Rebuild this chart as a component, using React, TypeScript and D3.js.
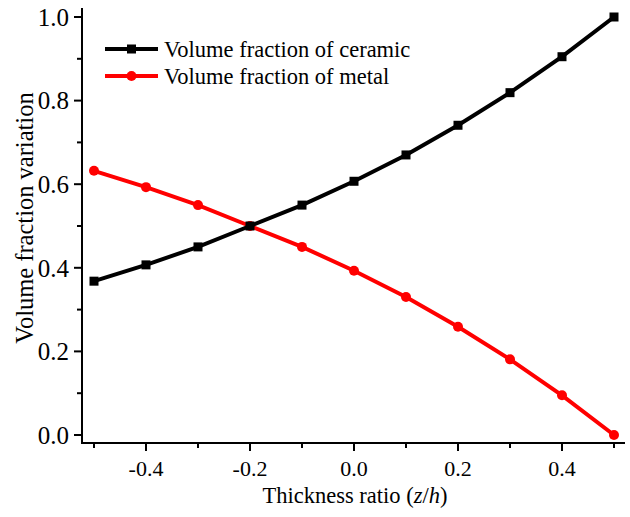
import React, { useEffect, useRef } from "react";
import * as d3 from "d3";

const thickness = [-0.5, -0.4, -0.3, -0.2, -0.1, 0.0, 0.1, 0.2, 0.3, 0.4, 0.5];
const ceramic = [0.368, 0.407, 0.45, 0.5, 0.55, 0.607, 0.67, 0.741, 0.819, 0.905, 1.0];
const metal = [0.632, 0.593, 0.55, 0.5, 0.45, 0.393, 0.33, 0.259, 0.181, 0.095, 0.0];
const xTicks = [-0.4, -0.2, 0.0, 0.2, 0.4];
const yTicks = [0.0, 0.2, 0.4, 0.6, 0.8, 1.0];
const seriesNames = ["Volume fraction of ceramic", "Volume fraction of metal"];

const width = 630;
const height = 517;
const font = "Liberation Serif, Times New Roman, DejaVu Serif, serif";

const App = () => {
  const ref = useRef<SVGSVGElement>(null);

  useEffect(() => {
    const svg = d3.select(ref.current);
    svg.selectAll("*").remove();

    const x = d3.scaleLinear().domain([-0.5, 0.5]).range([94, 614]);
    const y = d3.scaleLinear().domain([0, 1]).range([435, 17]);
    const left = 82;
    const bottom = 443;

    // axes frame
    svg.append("line")
      .attr("x1", left).attr("x2", left).attr("y1", 8).attr("y2", bottom + 1)
      .attr("stroke", "#000").attr("stroke-width", 2);
    svg.append("line")
      .attr("x1", left - 1).attr("x2", 625).attr("y1", bottom).attr("y2", bottom)
      .attr("stroke", "#000").attr("stroke-width", 2);

    // x ticks (major + minor)
    const xMinor = d3.range(-5, 6).map((d) => d / 10);
    svg.selectAll("line.xt").data(xMinor).enter().append("line")
      .attr("x1", (d) => x(d)).attr("x2", (d) => x(d))
      .attr("y1", bottom)
      .attr("y2", (d) => bottom + (xTicks.some((t) => Math.abs(t - d) < 1e-9) ? 8 : 5))
      .attr("stroke", "#000").attr("stroke-width", 2);
    svg.selectAll("text.xl").data(xTicks).enter().append("text")
      .attr("x", (d) => x(d)).attr("y", 476)
      .attr("text-anchor", "middle")
      .style("font-family", font).style("font-size", "22px")
      .text((d) => d3.format(".1f")(d).replace("−", "-"));

    // y ticks (major + minor)
    const yMinor = d3.range(0, 11).map((d) => d / 10);
    svg.selectAll("line.yt").data(yMinor).enter().append("line")
      .attr("x1", left)
      .attr("x2", (d) => left - (yTicks.some((t) => Math.abs(t - d) < 1e-9) ? 8 : 5))
      .attr("y1", (d) => y(d)).attr("y2", (d) => y(d))
      .attr("stroke", "#000").attr("stroke-width", 2);
    svg.selectAll("text.yl").data(yTicks).enter().append("text")
      .attr("x", 69).attr("y", (d) => y(d)).attr("dy", "0.35em")
      .attr("text-anchor", "end")
      .style("font-family", font).style("font-size", "25px")
      .text((d) => d3.format(".1f")(d));

    // titles
    const xt = svg.append("text")
      .attr("x", 355).attr("y", 503)
      .attr("text-anchor", "middle")
      .style("font-family", font).style("font-size", "22.5px");
    xt.append("tspan").text("Thickness ratio (");
    xt.append("tspan").style("font-style", "italic").text("z");
    xt.append("tspan").text("/");
    xt.append("tspan").style("font-style", "italic").text("h");
    xt.append("tspan").text(")");

    svg.append("text")
      .attr("transform", "translate(33,218) rotate(-90)")
      .attr("text-anchor", "middle")
      .style("font-family", font).style("font-size", "24.5px")
      .text("Volume fraction variation");

    const line = d3.line<number>()
      .x((d, i) => x(thickness[i]))
      .y((d) => y(d));

    // metal (red)
    svg.append("path").datum(metal)
      .attr("d", line).attr("fill", "none")
      .attr("stroke", "#ff0000").attr("stroke-width", 4);
    svg.selectAll("circle.m").data(metal).enter().append("circle")
      .attr("cx", (d, i) => x(thickness[i])).attr("cy", (d) => y(d))
      .attr("r", 5).attr("fill", "#ff0000");

    // ceramic (black)
    svg.append("path").datum(ceramic)
      .attr("d", line).attr("fill", "none")
      .attr("stroke", "#000").attr("stroke-width", 4);
    svg.selectAll("rect.c").data(ceramic).enter().append("rect")
      .attr("x", (d, i) => x(thickness[i]) - 4.5).attr("y", (d) => y(d) - 4.5)
      .attr("width", 9).attr("height", 9).attr("fill", "#000");

    // legend
    const colors = ["#000", "#ff0000"];
    seriesNames.forEach((name, i) => {
      const ly = 49 + i * 27;
      svg.append("line")
        .attr("x1", 105).attr("x2", 158).attr("y1", ly).attr("y2", ly)
        .attr("stroke", colors[i]).attr("stroke-width", 4);
      if (i === 0) {
        svg.append("rect").attr("x", 127).attr("y", ly - 4.5)
          .attr("width", 9).attr("height", 9).attr("fill", colors[i]);
      } else {
        svg.append("circle").attr("cx", 131.5).attr("cy", ly).attr("r", 5)
          .attr("fill", colors[i]);
      }
      svg.append("text")
        .attr("x", 164).attr("y", ly).attr("dy", "0.35em")
        .style("font-family", font).style("font-size", "22.5px")
        .text(name);
    });
  }, []);

  return (
    <svg
      ref={ref}
      width={width}
      height={height}
      style={{ position: "absolute", left: 0, top: 0, background: "#fff" }}
    />
  );
};

export default App;
